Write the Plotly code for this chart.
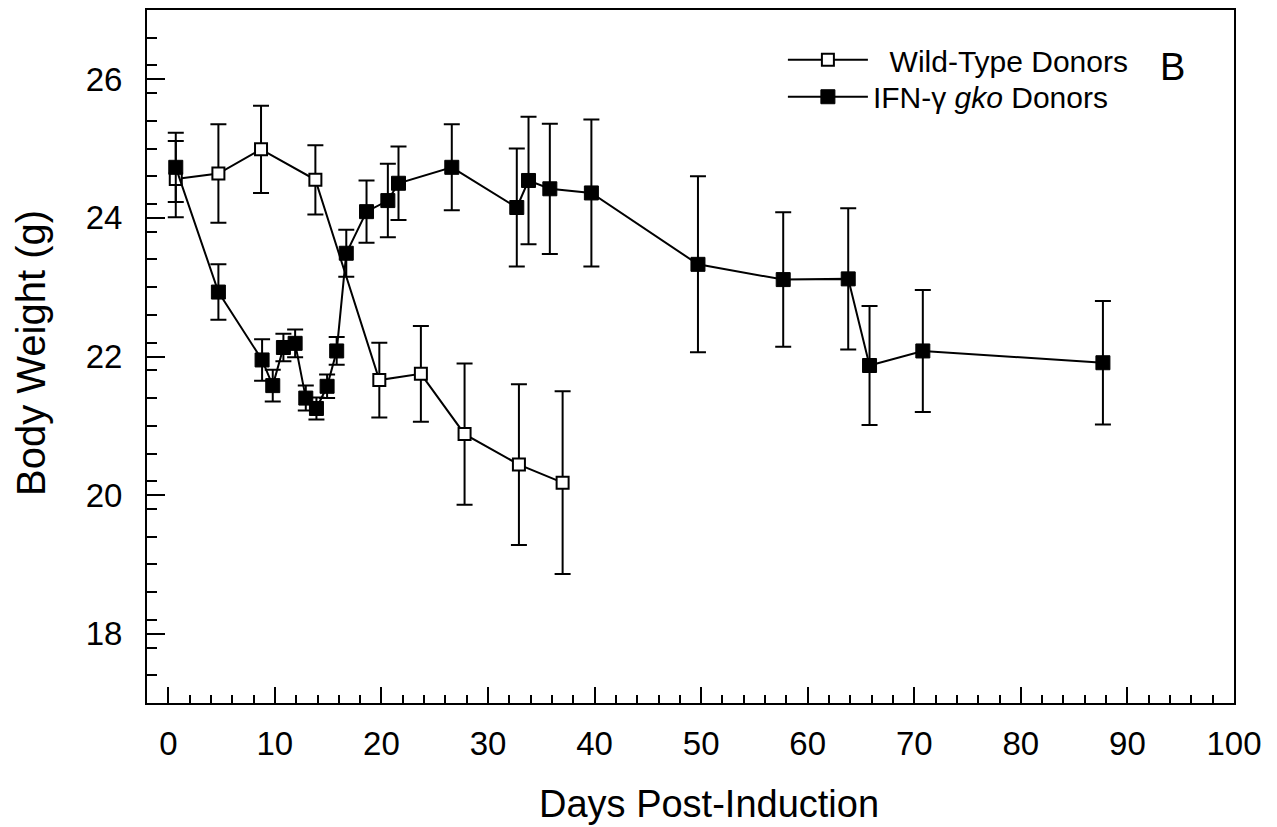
import plotly.graph_objects as go

# Wild-type donors (open squares)
wt_days = [0.7, 4.7, 8.7, 13.8, 19.8, 23.7, 27.8, 32.9, 37.0]
wt_weight = [24.56, 24.64, 24.99, 24.55, 21.66, 21.75, 20.88, 20.44, 20.18]
wt_err = [0.55, 0.71, 0.63, 0.50, 0.54, 0.69, 1.02, 1.16, 1.32]

# IFN-gamma gko donors (filled squares)
ko_days = [0.7, 4.7, 8.8, 9.8, 10.8, 11.9, 12.9, 13.9, 14.9, 15.8, 16.7, 18.6,
           20.6, 21.6, 26.6, 32.7, 33.8, 35.8, 39.7, 49.7, 57.7, 63.8, 65.8,
           70.8, 87.7]
ko_weight = [24.73, 22.93, 21.95, 21.58, 22.13, 22.19, 21.40, 21.25, 21.57,
             22.08, 23.49, 24.09, 24.25, 24.50, 24.73, 24.15, 24.54, 24.42,
             24.36, 23.33, 23.11, 23.12, 21.87, 22.08, 21.91]
ko_err = [0.50, 0.40, 0.30, 0.23, 0.20, 0.20, 0.18, 0.16, 0.17, 0.20, 0.34,
          0.45, 0.53, 0.53, 0.62, 0.85, 0.92, 0.94, 1.06, 1.27, 0.97, 1.02,
          0.86, 0.88, 0.89]

x_ticks = [0, 10, 20, 30, 40, 50, 60, 70, 80, 90, 100]
y_ticks = [18, 20, 22, 24, 26]

FONT = "Liberation Sans, Arial, sans-serif"

# plot-area geometry in pixels (used to place text annotations)
L, R, T, B = 147, 43, 8, 124
W, H = 1277, 827
PW, PH = W - L - R, H - T - B


def px_x(px):
    return (px - L) / PW


def px_y(py):
    return (H - B - py) / PH


fig = go.Figure()
fig.add_trace(go.Scatter(
    x=wt_days, y=wt_weight, mode="lines+markers",
    name="\u00a0\u00a0Wild-Type Donors", legend="legend",
    line=dict(color="black", width=2),
    marker=dict(symbol="square", size=12, color="white",
                line=dict(color="black", width=2)),
    error_y=dict(type="data", array=wt_err, visible=True,
                 color="black", thickness=2, width=8),
))
fig.add_trace(go.Scatter(
    x=ko_days, y=ko_weight, mode="lines+markers",
    name="IFN-γ <i>gko</i> Donors", legend="legend2",
    line=dict(color="black", width=2),
    marker=dict(symbol="square", size=14, color="black",
                line=dict(color="black", width=1)),
    error_y=dict(type="data", array=ko_err, visible=True,
                 color="black", thickness=2, width=8),
))

leg_common = dict(xanchor="left", yanchor="middle",
                  bgcolor="rgba(0,0,0,0)", borderwidth=0,
                  font=dict(size=30, family=FONT), itemwidth=80)

fig.update_layout(
    width=W, height=H,
    margin=dict(l=L, r=R, t=T, b=B),
    paper_bgcolor="white", plot_bgcolor="white",
    font=dict(family=FONT, color="black", size=30),
    showlegend=True,
    legend=dict(x=0.585, y=px_y(58), **leg_common),
    legend2=dict(x=0.585, y=px_y(95), **leg_common),
    annotations=[
        dict(text="B", xref="paper", yref="paper",
             x=px_x(1172), y=px_y(65), xanchor="center", yanchor="middle",
             showarrow=False, font=dict(size=38, family=FONT)),
        dict(text="Days Post-Induction", xref="paper", yref="paper",
             x=px_x(709), y=px_y(804), xanchor="center", yanchor="middle",
             showarrow=False, font=dict(size=38, family=FONT)),
        dict(text="Body Weight (g)", xref="paper", yref="paper",
             x=px_x(31), y=px_y(352), xanchor="center", yanchor="middle",
             textangle=-90, showarrow=False,
             font=dict(size=40, family=FONT)),
    ],
)

fig.update_xaxes(
    range=[-2, 100], tickvals=x_ticks, ticktext=[str(v) for v in x_ticks],
    ticks="inside", ticklen=16, tickwidth=2, tickcolor="black",
    minor=dict(dtick=2, tick0=0, ticks="inside", ticklen=8, tickwidth=2,
               tickcolor="black", showgrid=False),
    showline=True, linewidth=2, linecolor="black", mirror=True,
    showgrid=False, zeroline=False,
    tickfont=dict(size=33, family=FONT),
    ticklabelstandoff=10,
)
fig.update_yaxes(
    range=[17, 27], tickvals=y_ticks, ticktext=[str(v) for v in y_ticks],
    ticks="inside", ticklen=18, tickwidth=2, tickcolor="black",
    minor=dict(dtick=0.4, tick0=17, ticks="inside", ticklen=10, tickwidth=2,
               tickcolor="black", showgrid=False),
    showline=True, linewidth=2, linecolor="black", mirror=True,
    showgrid=False, zeroline=False,
    tickfont=dict(size=33, family=FONT),
    ticklabelstandoff=16,
)

fig.write_html("out.html")
